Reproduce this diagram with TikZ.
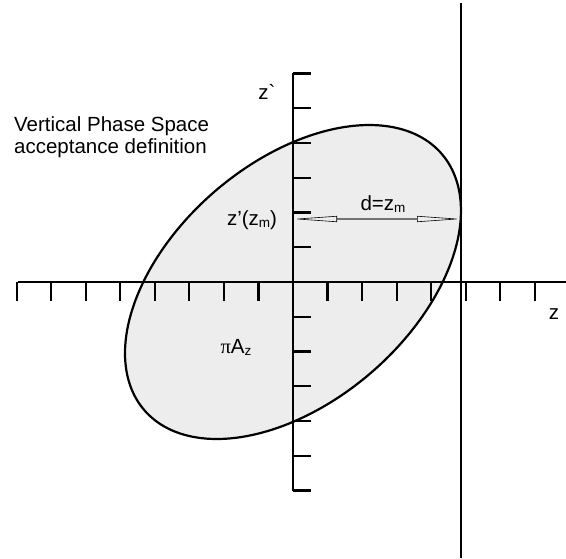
\documentclass[tikz,border=0pt]{standalone}
\usepackage{fontspec}
\setmainfont{Liberation Sans}[Ligatures=TeXOff]
\newfontfamily\greekfont{Liberation Serif}
\usetikzlibrary{arrows.meta, calc}
\newcommand\lowsub[1]{\raisebox{-2.5pt}{\fontsize{13.5}{13.5}\selectfont #1}}

\begin{document}
\begin{tikzpicture}[x=1pt, y=-1pt,
  axisline/.style={line width=2.2pt},
  tickmark/.style={line width=2.2pt},
  phase/.style={line width=2.2pt, fill=black!7},
  lab/.style={inner sep=0pt, font=\fontsize{20.5}{22}\selectfont},
  dimarrow/.style={line width=0.6pt, double=black!55, double distance=1.2pt, {Triangle[open,length=44pt,width=6pt]}-{Triangle[open,length=44pt,width=6pt]}},
]
\useasboundingbox (0,0) rectangle (566,558);
\coordinate (O) at (293,282);
\coordinate (zleft) at (18,282);
\coordinate (zright) at (566,282);
\coordinate (ztop) at (293,73);
\coordinate (zbot) at (293,491);
\coordinate (walltop) at (461,3);
\coordinate (wallbot) at (461,558);
\coordinate (zm) at (293,219);
\coordinate (wall) at (461,219);
\draw[phase] plot[domain=0:360, samples=100, smooth] ({293+168*cos(\x)}, {282-157*cos(\x-63)}) -- cycle;
\draw[axisline] (zleft) -- (zright);
\draw[axisline] (ztop) -- (zbot);
\draw[axisline] (walltop) -- (wallbot);
\foreach \k in {-8,...,-1,1,2,...,7}
  \draw[tickmark] ($(O)+(34.55*\k,0)$) -- ++(0,19);
\foreach \k in {-6,...,-1,1,2,...,6}
  \draw[tickmark] ($(O)+(0,34.75*\k)$) -- ++(18,0);
\draw[dimarrow] (zm) -- (wall);
\node[lab, anchor=north west, align=left] (title) at (14,116) {Vertical Phase Space\\acceptance definition};
\node[lab, anchor=base] (zprime) at (267,99) {z`};
\node[lab, anchor=base] (zaxis) at (554,319) {z};
\node[lab, anchor=base] (dist) at (383,210) {d=z\lowsub{m}};
\node[lab, anchor=base] (zpzm) at (252,225) {z’(z\lowsub{m})};
\node[lab, anchor=base] (area) at (236,353) {{\greekfont π}A\lowsub{z}};
\end{tikzpicture}
\end{document}
